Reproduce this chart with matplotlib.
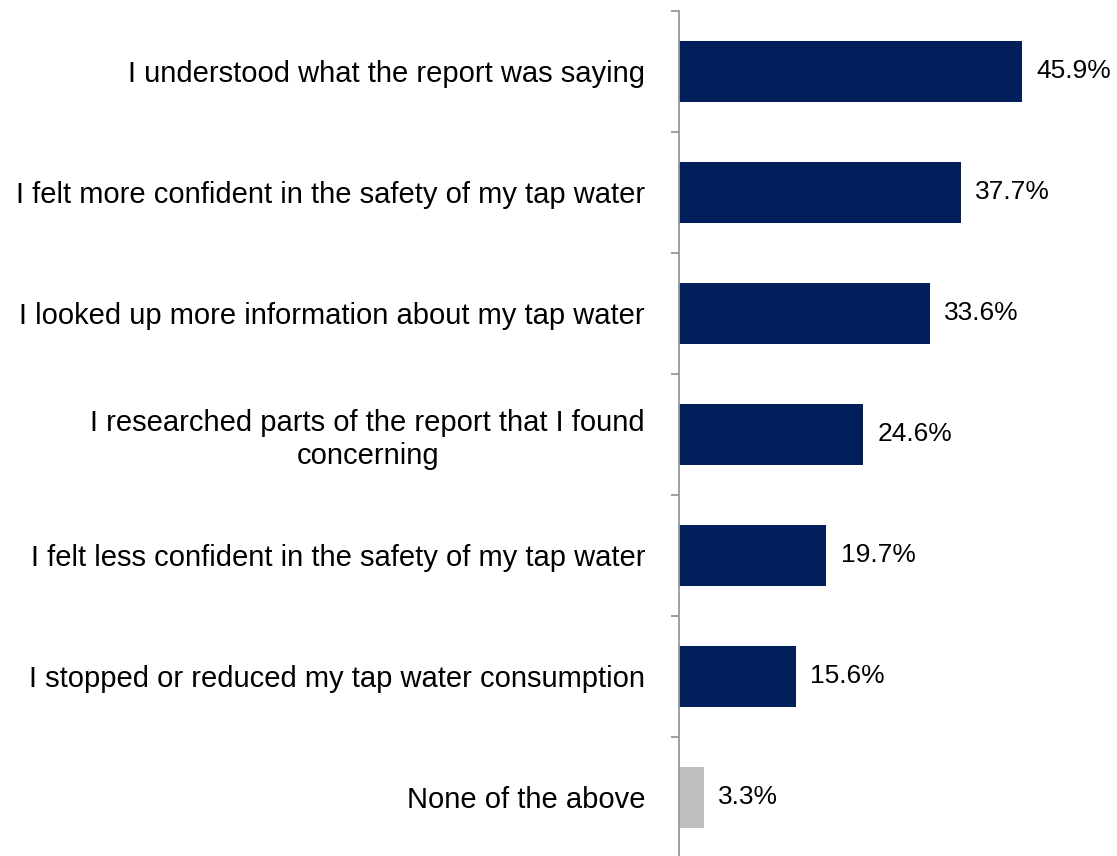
import matplotlib
matplotlib.use("Agg")
import matplotlib.pyplot as plt

plt.rcParams['font.family'] = ['Liberation Sans', 'DejaVu Sans']

labels = ["I understood what the report was saying",
          "I felt more confident in the safety of my tap water",
          "I looked up more information about my tap water",
          "I researched parts of the report that I found\nconcerning",
          "I felt less confident in the safety of my tap water",
          "I stopped or reduced my tap water consumption",
          "None of the above"]
values = [45.9, 37.7, 33.6, 24.6, 19.7, 15.6, 3.3]
colors = ["#001F5B"] * 6 + ["#BFBFBF"]

fig = plt.figure(figsize=(11.17, 8.56), dpi=100)
ax = fig.add_axes([0.608, -0.0023, 0.392, 0.9895])
pos = list(range(len(values)))
ax.barh(pos, values, height=0.5, color=colors)
ax.set_ylim(len(values) - 0.5, -0.5)
ax.set_xlim(0, 58.6)

for p, v in zip(pos, values):
    ax.text(v + 1.9, p, f"{v}%", va="center", ha="left", fontsize=19)

ax.set_yticks(pos)
ax.set_yticklabels(labels, fontsize=21, multialignment="center")
ax.tick_params(axis="y", which="major", length=0, pad=24.5)
ax.set_yticks([i - 0.5 for i in range(len(values) + 1)], minor=True)
ax.tick_params(axis="y", which="minor", length=6, width=1.3, color="#999999")
ax.set_xticks([])
for s in ["top", "right", "bottom"]:
    ax.spines[s].set_visible(False)
ax.spines["left"].set_color("#999999")
ax.spines["left"].set_linewidth(1.3)

fig.savefig("out.png", dpi=100)
